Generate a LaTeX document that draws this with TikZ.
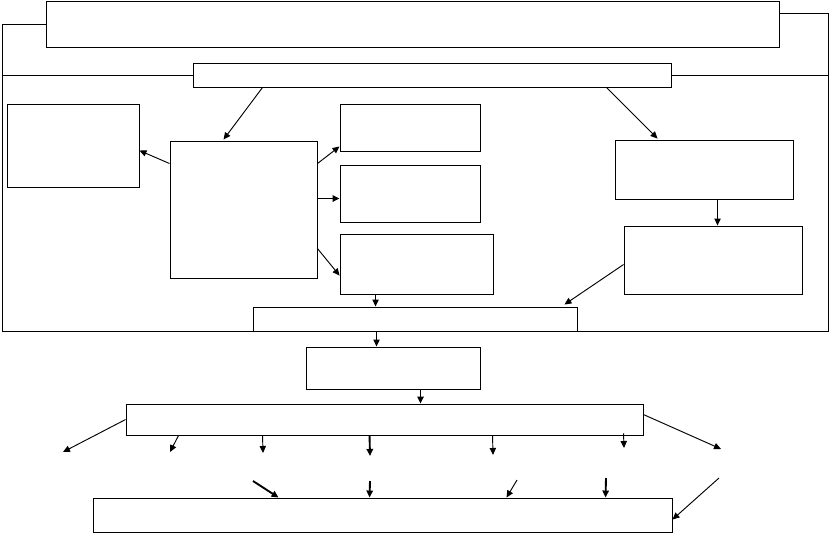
\documentclass[tikz,border=0pt]{standalone}
\usetikzlibrary{arrows.meta,calc,fit}
\begin{document}
\begin{tikzpicture}[x=0.3mm, y=-0.3mm, line width=0.8pt,
	box/.style={draw, rectangle, inner sep=0pt},
	arr/.style={-{Triangle[length=2.1mm, width=1.9mm]}},
	bold/.style={arr, line width=1.6pt}]
	\useasboundingbox (0,0) rectangle (829,533);
	\node[box, fit={(46,1) (779,47)}] (title) {};
	\node[box, fit={(193,63) (671,87)}] (sub) {};
	\node[box, fit={(7,104) (139,187)}] (left) {};
	\node[box, fit={(170,141) (317,278)}] (core) {};
	\node[box, fit={(340,104) (480,151)}] (ra) {};
	\node[box, fit={(340,165) (480,222)}] (rb) {};
	\node[box, fit={(340,234) (493,294)}] (rc) {};
	\node[box, fit={(615,140) (793,199)}] (rd) {};
	\node[box, fit={(624,226) (802,294)}] (re) {};
	\node[box, fit={(253,307) (577,331)}] (merge) {};
	\node[box, fit={(306,347) (480,389)}] (mid) {};
	\node[box, fit={(126,404) (643,435)}] (wide) {};
	\node[box, fit={(93,498) (672,532)}] (foot) {};
	\coordinate (fbl) at (2,331);
	\coordinate (fbr) at (828,331);
	\draw (title.west) -| (fbl) -- (fbr) |- ($(title.north east)+(0,13)$);
	\draw (sub.west) -- (sub.west -| fbl);
	\draw (sub.east) -- (sub.east -| fbr);
	\draw[arr] ($(sub.south west)+(70,0)$) -- ($(core.north west)+(54,-1)$);
	\draw[arr] ($(sub.south west)+(414,0)$) -- ($(rd.north west)+(43,-1)$);
	\draw[arr] ($(core.north west)+(0,23)$) -- ($(left.north east)+(0,47)$);
	\draw[arr] ($(core.north east)+(0,23)$) -- ($(ra.south west)+(0,-5)$);
	\draw[bold] ($(core.north east)+(0,58)$) -- ($(rb.north west)+(0,34)$);
	\draw[arr] ($(core.north east)+(0,108)$) -- ($(rc.north west)+(0,42)$);
	\draw[arr] ($(rc.south west)+(36,0)$) -- ($(merge.north west)+(123,0)$);
	\draw[arr] ($(rd.south west)+(103,0)$) -- ($(re.north west)+(94,0)$);
	\draw[arr] ($(re.north west)+(0,39)$) -- ($(merge.north east)+(-13,-2)$);
	\draw[arr] ($(merge.south west)+(124,0)$) -- ($(mid.north west)+(71,0)$);
	\draw[bold] ($(mid.south west)+(115,0)$) -- ($(wide.north west)+(295,0)$);
	\coordinate (w1) at (63,452);
	\coordinate (w2) at (170,452);
	\coordinate (w3) at (263,453);
	\coordinate (w4) at (370,456);
	\coordinate (w5) at (493,455);
	\coordinate (w6) at (624,448);
	\coordinate (w7) at (721,449);
	\draw[arr] ($(wide.north west)+(0,16)$) -- (w1);
	\draw[arr] ($(wide.south west)+(53,0)$) -- (w2);
	\draw[arr] ($(wide.south west)+(137,0)$) -- (w3);
	\draw[bold] ($(wide.south west)+(244,0)$) -- (w4);
	\draw[arr] ($(wide.south west)+(367,0)$) -- (w5);
	\draw[arr] ($(wide.south west)+(498,-2)$) -- (w6);
	\draw[arr] ($(wide.north east)+(0,11)$) -- (w7);
	\coordinate (f1) at (253,481);
	\coordinate (f2) at (370,481);
	\coordinate (f3) at (517,480);
	\coordinate (f4) at (606,478);
	\coordinate (f5) at (719,478);
	\draw[bold] (f1) -- ($(foot.north west)+(186,0)$);
	\draw[bold] (f2) -- ($(foot.north west)+(277,0)$);
	\draw[arr] (f3) -- ($(foot.north west)+(414,0)$);
	\draw[bold] (f4) -- ($(foot.north west)+(513,0)$);
	\draw[arr] (f5) -- ($(foot.north east)+(0,22)$);
\end{tikzpicture}
\end{document}
